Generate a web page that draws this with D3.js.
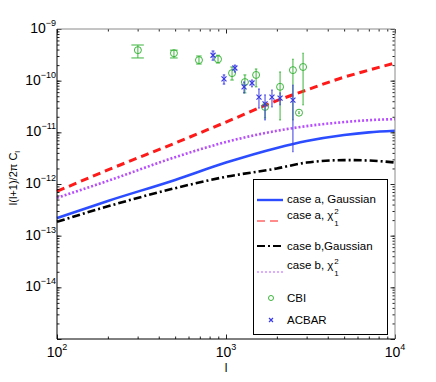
<!DOCTYPE html>
<html>
<head>
<meta charset="utf-8">
<script src="https://cdn.jsdelivr.net/npm/d3@7"></script>
<style>
  body { margin: 0; background: #fff; }
  svg { display: block; font-family: "Liberation Sans", Arial, sans-serif; }
</style>
</head>
<body>
<div id="chart"></div>
<script>
const ell = [100, 200, 500, 1000, 2000, 3000, 5000, 7000, 10000];
const caseAGauss = [2.2e-13, 4.7e-13, 1.2e-12, 2.6e-12, 5.0e-12, 6.8e-12, 8.9e-12, 1.0e-11, 1.07e-11];
const caseAChi = [7.2e-13, 1.87e-12, 6.2e-12, 1.58e-11, 4.1e-11, 6.6e-11, 1.17e-10, 1.6e-10, 2.2e-10];
const caseBGauss = [1.85e-13, 3.7e-13, 8.3e-13, 1.38e-12, 2.0e-12, 2.6e-12, 2.9e-12, 2.85e-12, 2.6e-12];
const caseBChi = [5.4e-13, 1.15e-12, 3.3e-12, 6.5e-12, 1.07e-11, 1.32e-11, 1.58e-11, 1.72e-11, 1.8e-11];

// CBI band powers
const cbiL = [301, 492, 692, 897, 1086, 1294, 1507, 1702, 2089, 2489, 2704, 2858];
const cbiV = [3.9e-10, 3.4e-10, 2.5e-10, 2.6e-10, 1.4e-10, 9.4e-11, 1.29e-10, 3.1e-11, 7.6e-11, 1.6e-10, 2.4e-11, 1.84e-10];
const cbiHi = [4.9e-10, 3.9e-10, 3.0e-10, 3.1e-10, 1.84e-10, 1.29e-10, 1.68e-10, 3.7e-11, 1.47e-10, 2.6e-10, 2.5e-11, 3.4e-10];
const cbiLo = [2.75e-10, 2.75e-10, 2.1e-10, 2.2e-10, 1.03e-10, 5.8e-11, 7.6e-11, 1.9e-11, 1.74e-11, 1.74e-11, 2.3e-11, 3.4e-11];

// ACBAR band powers
const acbarL = [838, 973, 1129, 1279, 1425, 1567, 1702, 1871, 2089, 2489];
const acbarV = [3.1e-10, 1.08e-10, 1.76e-10, 7.6e-11, 9.0e-11, 4.8e-11, 3.55e-11, 4.8e-11, 4.6e-11, 4.2e-11];
const acbarHi = [3.75e-10, 1.29e-10, 2.0e-10, 9.4e-11, 1.03e-10, 6.9e-11, 5.3e-11, 6.6e-11, 5.8e-11, 8.2e-11];
const acbarLo = [2.5e-10, 8.6e-11, 1.47e-10, 5.8e-11, 7.6e-11, 2.95e-11, 1.74e-11, 3.1e-11, 3.4e-11, 4.2e-12];

const xTicks = [1e2, 1e3, 1e4];
const xTickExp = ['2', '3', '4'];
const yTicks = [1e-9, 1e-10, 1e-11, 1e-12, 1e-13, 1e-14];
const yTickExp = ['\u22129', '\u221210', '\u221211', '\u221212', '\u221213', '\u221214'];

const legendLabels = ['case a, Gaussian', 'case a, \u03c7', 'case b,Gaussian', 'case b, \u03c7', 'CBI', 'ACBAR'];

const W = 436, H = 382;
const margin = { top: 29, right: 41, bottom: 43, left: 57 };
const width = W - margin.left - margin.right;
const height = H - margin.top - margin.bottom;

const svg = d3.select('#chart').append('svg')
  .attr('width', W)
  .attr('height', H);

const el = svg.append('g')
  .attr('transform', `translate(${margin.left},${margin.top})`);

const x = d3.scaleLog().domain([1e2, 1e4]).range([0, width]);
const y = d3.scaleLog().domain([1e-15, 1e-9]).range([height, 0]);

// --- model curves
const curves = [
  { values: caseAGauss, color: '#2b4cff', dash: null, w: 2.6 },
  { values: caseAChi, color: '#ff1a1a', dash: '8,5', w: 3 },
  { values: caseBGauss, color: '#000', dash: '8,3,2,3', w: 2.6 },
  { values: caseBChi, color: '#b84cff', dash: '2,2', w: 2.6 },
];

const line = d3.line()
  .x((d) => x(d.l))
  .y((d) => y(d.v))
  .curve(d3.curveMonotoneX);

curves.forEach((c) => {
  el.append('path')
    .datum(ell.map((l, i) => ({ l, v: c.values[i] })))
    .attr('d', line)
    .attr('fill', 'none')
    .attr('stroke', c.color)
    .attr('stroke-width', c.w)
    .attr('stroke-dasharray', c.dash);
});

// --- data points with error bars (cap half width = range/100, matlab style)
function errorSeries(L, V, Hi, Lo, color, marker) {
  const tee = (d3.max(L) - d3.min(L)) / 100;
  const g = el.append('g');
  L.forEach((l, i) => {
    g.append('line')
      .attr('x1', x(l)).attr('x2', x(l))
      .attr('y1', y(Lo[i])).attr('y2', y(Hi[i]))
      .attr('stroke', color).attr('stroke-width', 1);
    [Lo[i], Hi[i]].forEach((v) => {
      g.append('line')
        .attr('x1', x(l - tee)).attr('x2', x(l + tee))
        .attr('y1', y(v)).attr('y2', y(v))
        .attr('stroke', color).attr('stroke-width', 1);
    });
    marker(g, x(l), y(V[i]), color);
  });
}

function circle(g, cx, cy, color, r = 3.5) {
  g.append('circle')
    .attr('cx', cx).attr('cy', cy).attr('r', r)
    .attr('fill', 'none').attr('stroke', color).attr('stroke-width', 1);
}

function cross(g, cx, cy, color, s = 2.5) {
  g.append('path')
    .attr('d', `M${cx - s},${cy - s}L${cx + s},${cy + s}M${cx - s},${cy + s}L${cx + s},${cy - s}`)
    .attr('stroke', color).attr('stroke-width', 1.2).attr('fill', 'none');
}

errorSeries(cbiL, cbiV, cbiHi, cbiLo, '#3cb43c', circle);
errorSeries(acbarL, acbarV, acbarHi, acbarLo, '#3a3ae6', cross);

// --- axes (ticks inward on all four sides)
const minorX = x.ticks();
const minorY = y.ticks();

function ticks(gen, vals, size) {
  return gen.tickValues(vals).tickSizeInner(size).tickSizeOuter(0).tickFormat('');
}

const sides = [
  { gen: d3.axisBottom, scale: x, minor: minorX, major: xTicks, t: `translate(0,${height})` },
  { gen: d3.axisTop, scale: x, minor: minorX, major: xTicks, t: 'translate(0,0)' },
  { gen: d3.axisLeft, scale: y, minor: minorY, major: yTicks.concat([1e-15]), t: 'translate(0,0)' },
  { gen: d3.axisRight, scale: y, minor: minorY, major: yTicks.concat([1e-15]), t: `translate(${width},0)` },
];

sides.forEach((s) => {
  [[s.minor, -2.5], [s.major, -4.5]].forEach(([vals, size]) => {
    const a = el.append('g')
      .attr('transform', s.t)
      .call(ticks(s.gen(s.scale), vals, size));
    a.select('.domain').remove();
    a.selectAll('line').attr('stroke', '#222');
  });
});

// frame
el.append('path')
  .attr('d', `M0,0H${width}V${height}`)
  .attr('fill', 'none').attr('stroke', '#8a8a8a').attr('stroke-width', 1);
el.append('path')
  .attr('d', `M0,0V${height}H${width}`)
  .attr('fill', 'none').attr('stroke', '#000').attr('stroke-width', 1);

// tick labels "10^n"
xTicks.forEach((v, i) => {
  const t = el.append('text')
    .attr('x', x(v)).attr('y', height + 18)
    .attr('text-anchor', 'middle')
    .attr('font-size', 14);
  t.append('tspan').text('10');
  t.append('tspan').attr('dy', -7).attr('font-size', 9).text(xTickExp[i]);
});

yTicks.forEach((v, i) => {
  const t = el.append('text')
    .attr('x', -1).attr('y', y(v) + 4)
    .attr('text-anchor', 'end')
    .attr('font-size', 14);
  t.append('tspan').text('10');
  t.append('tspan').attr('dy', -7).attr('font-size', 9).text(yTickExp[i]);
});

// axis titles
el.append('text')
  .attr('x', width / 2).attr('y', height + 33)
  .attr('text-anchor', 'middle')
  .attr('font-size', 12)
  .text('l');

const yl = svg.append('text')
  .attr('transform', 'translate(17,178) rotate(-90)')
  .attr('text-anchor', 'middle')
  .attr('font-size', 11);
yl.append('tspan').text('l(l+1)/2\u03c0 C');
yl.append('tspan').attr('dy', 3).attr('font-size', 8).text('l');

// --- legend
const lg = svg.append('g');
lg.append('rect')
  .attr('x', 253.5).attr('y', 179.5)
  .attr('width', 134).attr('height', 155)
  .attr('fill', '#fff').attr('stroke', '#000').attr('stroke-width', 1);

const legendRows = [
  { type: 'line', c: curves[0], ly: 200, ty: 203 },
  { type: 'line', c: curves[1], ly: 221, ty: 219, chi: true, opacity: 0.5 },
  { type: 'line', c: curves[2], ly: 246, ty: 250 },
  { type: 'line', c: curves[3], ly: 272, ty: 269, chi: true, opacity: 0.45 },
  { type: 'circle', color: '#3cb43c', ly: 298, ty: 302 },
  { type: 'cross', color: '#3a3ae6', ly: 320, ty: 324 },
];

legendRows.forEach((r, i) => {
  if (r.type === 'line') {
    lg.append('line')
      .attr('x1', 257).attr('x2', 283)
      .attr('y1', r.ly).attr('y2', r.ly)
      .attr('stroke', r.c.color)
      .attr('stroke-width', i === 0 ? 2.4 : 2)
      .attr('stroke-dasharray', r.c.dash)
      .attr('opacity', r.opacity || 1);
  } else if (r.type === 'circle') {
    circle(lg, 271, r.ly, r.color, 2.5);
  } else {
    cross(lg, 271, r.ly, r.color, 2);
  }
  const t = lg.append('text')
    .attr('x', 287).attr('y', r.ty)
    .attr('font-size', 11.5)
    .text(legendLabels[i]);
  if (r.chi) {
    const w = t.node().getComputedTextLength();
    lg.append('text').attr('x', 288 + w).attr('y', r.ty - 5)
      .attr('font-size', 8).text('2');
    lg.append('text').attr('x', 288 + w).attr('y', r.ty + 7)
      .attr('font-size', 8).text('1');
  }
});
</script>
</body>
</html>
